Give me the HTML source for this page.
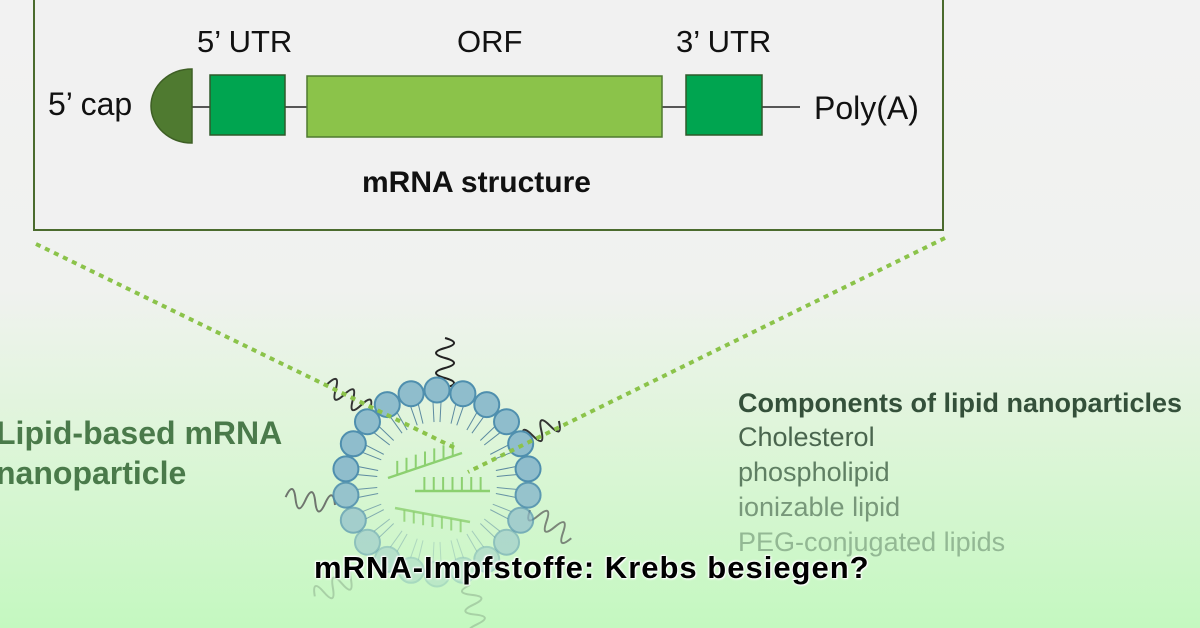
<!DOCTYPE html>
<html><head><meta charset="utf-8"><style>
body{margin:0;width:1200px;height:628px;overflow:hidden;background:linear-gradient(#f2f2f2 0px,#f0f2ef 290px,#dff5da 430px,#c4f8c0 628px);font-family:"Liberation Sans",sans-serif;position:relative}
.t{position:absolute;white-space:nowrap}
</style></head><body>
<svg width="1200" height="628" style="position:absolute;left:0;top:0">
<rect x="34" y="-2" width="909" height="232" fill="#f1f1f1" stroke="#4b6b2e" stroke-width="2"/>
<line x1="192" y1="107" x2="800" y2="107" stroke="#222" stroke-width="1.5"/>
<path d="M192 69 A41 37 0 0 0 192 143 Z" fill="#4f7a30" stroke="#3e5f25" stroke-width="1.5"/>
<rect x="210" y="75" width="75" height="60" fill="#00a550" stroke="#2f5a2a" stroke-width="1.5"/>
<rect x="307" y="76" width="355" height="61" fill="#8bc34a" stroke="#4f7a30" stroke-width="1.5"/>
<rect x="686" y="75" width="76" height="60" fill="#00a550" stroke="#2f5a2a" stroke-width="1.5"/>
<g id="lnp"></g>
<line x1="36" y1="244" x2="455" y2="448" stroke="#8bc34a" stroke-width="4" stroke-dasharray="5 5"/>
<line x1="945" y1="238" x2="468" y2="472" stroke="#8bc34a" stroke-width="4" stroke-dasharray="5 5"/>
</svg>
<div class="t" style="left:48px;top:86px;font-size:32px;color:#111">5’ cap</div>
<div class="t" style="left:197px;top:24px;font-size:31px;color:#111">5’ UTR</div>
<div class="t" style="left:457px;top:24px;font-size:31px;color:#111">ORF</div>
<div class="t" style="left:676px;top:24px;font-size:31px;color:#111">3’ UTR</div>
<div class="t" style="left:814px;top:90px;font-size:32px;color:#111">Poly(A)</div>
<div class="t" style="left:362px;top:166px;font-size:30px;font-weight:bold;color:#111">mRNA structure</div>
<div class="t" style="left:-4px;top:413px;font-size:32px;font-weight:bold;color:#4a7a4a;line-height:40px">Lipid-based mRNA<br>nanoparticle</div>
<div class="t" style="left:738px;top:388px;font-size:27px;font-weight:bold;color:#34503a">Components of lipid nanoparticles</div>
<div class="t" style="left:738px;top:422px;font-size:27px;color:#4a654e">Cholesterol</div>
<div class="t" style="left:738px;top:457px;font-size:27px;color:#5f7f63">phospholipid</div>
<div class="t" style="left:738px;top:492px;font-size:27px;color:#78987a">ionizable lipid</div>
<div class="t" style="left:738px;top:527px;font-size:27px;color:#93b894">PEG-conjugated lipids</div>
<div class="t" style="left:314px;top:550px;font-size:31px;letter-spacing:1px;font-weight:bold;color:#000;text-shadow:0 0 3px #fff,0 0 3px #fff,1px 1px 1px #fff,-1px -1px 1px #fff">mRNA-Impfstoffe: Krebs besiegen?</div>
<script>
var g=document.getElementById('lnp'),s='',cx=437,cy=482,R=92,n=22;
function wave(x,y,a,c,o){var p='M'+x+' '+y;for(var i=1;i<=5;i++){var d=i*10,w=(i%2?9:-9),pd=d-5;p+=' Q'+(x+Math.cos(a)*pd-Math.sin(a)*w*2)+' '+(y+Math.sin(a)*pd+Math.cos(a)*w*2)+' '+(x+Math.cos(a)*d)+' '+(y+Math.sin(a)*d);}return '<path d="'+p+'" fill="none" stroke="'+c+'" stroke-width="2" opacity="'+o+'"/>';}
s+=wave(445,388,-1.57,'#222',1)+wave(370,410,-2.6,'#333',1)+wave(515,445,-0.5,'#333',1)+wave(335,505,3.3,'#555',0.8)+wave(530,510,0.6,'#555',0.7)+wave(360,575,2.7,'#8a8',0.5)+wave(470,585,1.4,'#8a8',0.5);
for(var i=0;i<n;i++){var a=-Math.PI/2+2*Math.PI*i/n,x=cx+R*Math.cos(a),y=cy+R*Math.sin(a),o=Math.max(0.25,1-Math.max(0,Math.sin(a))*0.75);
for(var k=-1;k<=1;k+=2){var b=a+k*0.05;s+='<line x1="'+(cx+(R-12)*Math.cos(b))+'" y1="'+(cy+(R-12)*Math.sin(b))+'" x2="'+(cx+(R-32)*Math.cos(b))+'" y2="'+(cy+(R-32)*Math.sin(b))+'" stroke="#5c8aa0" stroke-width="1" opacity="'+o+'"/>';}
s+='<circle cx="'+x+'" cy="'+y+'" r="12.5" fill="#8fbdcc" stroke="#4f8fae" stroke-width="2" opacity="'+o+'"/>';}
function rna(x1,y1,x2,y2,up,o){var r='<line x1="'+x1+'" y1="'+y1+'" x2="'+x2+'" y2="'+y2+'" stroke="#8cd070" stroke-width="2.5" opacity="'+o+'"/>';for(var j=1;j<8;j++){var t=j/8,x=x1+(x2-x1)*t,y=y1+(y2-y1)*t;r+='<line x1="'+x+'" y1="'+y+'" x2="'+x+'" y2="'+(y+up)+'" stroke="#8cd070" stroke-width="2" opacity="'+o+'"/>';}return r;}
s+=rna(388,478,462,453,-14,1)+rna(415,491,490,491,-14,1)+rna(395,508,470,522,12,0.8);
g.innerHTML=s;
</script>
</body></html>
